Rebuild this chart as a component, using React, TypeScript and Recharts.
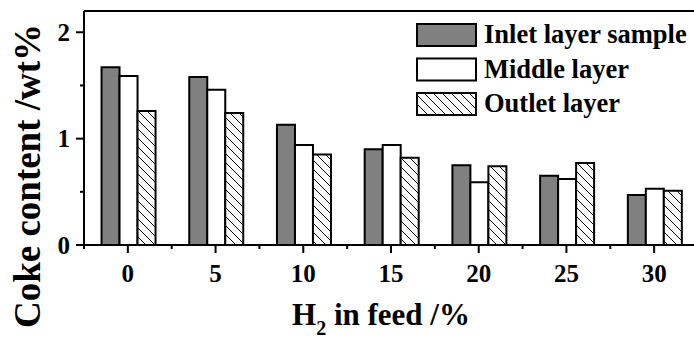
import React from 'react';
import { BarChart, Bar, XAxis, YAxis, Legend, ReferenceLine } from 'recharts';

// H2 content in feed (%) and coke content (wt%) per reactor layer
const categories = ['0', '5', '10', '15', '20', '25', '30'];
const inletLayer = [1.67, 1.58, 1.13, 0.9, 0.75, 0.65, 0.47];
const middleLayer = [1.59, 1.46, 0.94, 0.94, 0.59, 0.62, 0.53];
const outletLayer = [1.26, 1.24, 0.85, 0.82, 0.74, 0.77, 0.51];
const yTicks = [0, 0.5, 1, 1.5, 2];
const seriesNames = ['Inlet layer sample', 'Middle layer', 'Outlet layer'];

const data = categories.map((c, i) => ({
  h2: c,
  inlet: inletLayer[i],
  middle: middleLayer[i],
  outlet: outletLayer[i],
}));

const FONT = "'Liberation Serif', 'Times New Roman', serif";
const CHART_W = 720;
const CHART_H = 342;
const MARGIN = { top: 11, right: 22, left: 0, bottom: 0 };
const Y_AXIS_W = 84;
const PLOT_W = CHART_W - MARGIN.right - MARGIN.left - Y_AXIS_W;
const HALF_BAND = PLOT_W / categories.length / 2;

function HatchDefs({ id }: { id: string }) {
  return (
    <defs>
      <pattern id={id} patternUnits="userSpaceOnUse" width={9} height={9}>
        <rect width={9} height={9} fill="#fff" />
        <path d="M0,0 L9,9 M-1,8 L1,10 M8,-1 L10,1" stroke="#000" strokeWidth={1} />
      </pattern>
    </defs>
  );
}

function XTick(props: any) {
  const { x, y, payload, index } = props;
  const axisY = y - 19;
  return (
    <g>
      <line x1={x} y1={axisY} x2={x} y2={axisY + 8} stroke="#000" strokeWidth={2} />
      <line x1={x + HALF_BAND} y1={axisY} x2={x + HALF_BAND} y2={axisY + 4} stroke="#000" strokeWidth={2} />
      {index === 0 && (
        <line x1={x - HALF_BAND} y1={axisY} x2={x - HALF_BAND} y2={axisY + 4} stroke="#000" strokeWidth={2} />
      )}
      <text x={x} y={y} dy="0.71em" textAnchor="middle" fontFamily={FONT} fontWeight="bold" fontSize={25} fill="#000">
        {payload.value}
      </text>
    </g>
  );
}

function YTick(props: any) {
  const { x, y, payload } = props;
  const axisX = x + 14;
  const major = Number.isInteger(payload.value);
  return (
    <g>
      <line x1={axisX - (major ? 8 : 4)} y1={y} x2={axisX} y2={y} stroke="#000" strokeWidth={2} />
      {major && (
        <text x={x} y={y} dy="0.34em" textAnchor="end" fontFamily={FONT} fontWeight="bold" fontSize={25} fill="#000">
          {payload.value}
        </text>
      )}
    </g>
  );
}

function XTitle(props: any) {
  const { viewBox } = props;
  return (
    <text x={viewBox.x + 208} y={325} fontFamily={FONT} fontWeight="bold" fontSize={31} fill="#000">
      H
      <tspan fontSize={20} dy={10}>2</tspan>
      <tspan dy={-10}> in feed /%</tspan>
    </text>
  );
}

function YTitle() {
  return (
    <text
      x={40}
      y={176}
      transform="rotate(-90, 40, 176)"
      textAnchor="middle"
      fontFamily={FONT}
      fontWeight="bold"
      fontSize={37}
      fill="#000"
    >
      Coke content /wt%
    </text>
  );
}

const swatchFills = ['#808080', '#ffffff', 'url(#legendHatch)'];

function LegendBox() {
  return (
    <svg width={290} height={125} style={{ display: 'block' }}>
      <HatchDefs id="legendHatch" />
      {seriesNames.map((name, i) => (
        <g key={name} transform={`translate(0, ${24 + i * 34.5})`}>
          <rect x={2} y={0} width={59} height={22} fill={swatchFills[i]} stroke="#000" strokeWidth={2} />
          <text x={69} y={19} fontFamily={FONT} fontWeight="bold" fontSize={26.5} fill="#000">
            {name}
          </text>
        </g>
      ))}
    </svg>
  );
}

export default function App() {
  return (
    <div
      style={{
        position: 'absolute',
        left: 0,
        top: 0,
        width: 694,
        height: 342,
        overflow: 'hidden',
        background: '#fff',
      }}
    >
      <BarChart
        width={CHART_W}
        height={CHART_H}
        data={data}
        margin={MARGIN}
        barCategoryGap="20%"
        barGap={0}
      >
        <HatchDefs id="outletHatch" />
        <XAxis
          dataKey="h2"
          height={97}
          stroke="#000"
          axisLine={{ stroke: '#000', strokeWidth: 2 }}
          tickLine={false}
          tickSize={8}
          tickMargin={11}
          interval={0}
          tick={<XTick />}
          label={{ content: <XTitle /> }}
        />
        <YAxis
          width={Y_AXIS_W}
          domain={[0, 2.2]}
          ticks={yTicks}
          interval={0}
          allowDataOverflow
          axisLine={{ stroke: '#000', strokeWidth: 2 }}
          tickLine={false}
          tickSize={8}
          tickMargin={6}
          tick={<YTick />}
          label={{ content: <YTitle /> }}
        />
        <ReferenceLine y={2.2} stroke="#000" strokeWidth={2} />
        <Legend
          layout="vertical"
          align="center"
          verticalAlign="middle"
          wrapperStyle={{ position: 'absolute', left: 415, top: 0, width: 290 }}
          content={<LegendBox />}
        />
        <Bar dataKey="inlet" name={seriesNames[0]} fill="#808080" stroke="#000" strokeWidth={2} isAnimationActive={false} />
        <Bar dataKey="middle" name={seriesNames[1]} fill="#ffffff" stroke="#000" strokeWidth={2} isAnimationActive={false} />
        <Bar dataKey="outlet" name={seriesNames[2]} fill="url(#outletHatch)" stroke="#000" strokeWidth={2} isAnimationActive={false} />
      </BarChart>
    </div>
  );
}
